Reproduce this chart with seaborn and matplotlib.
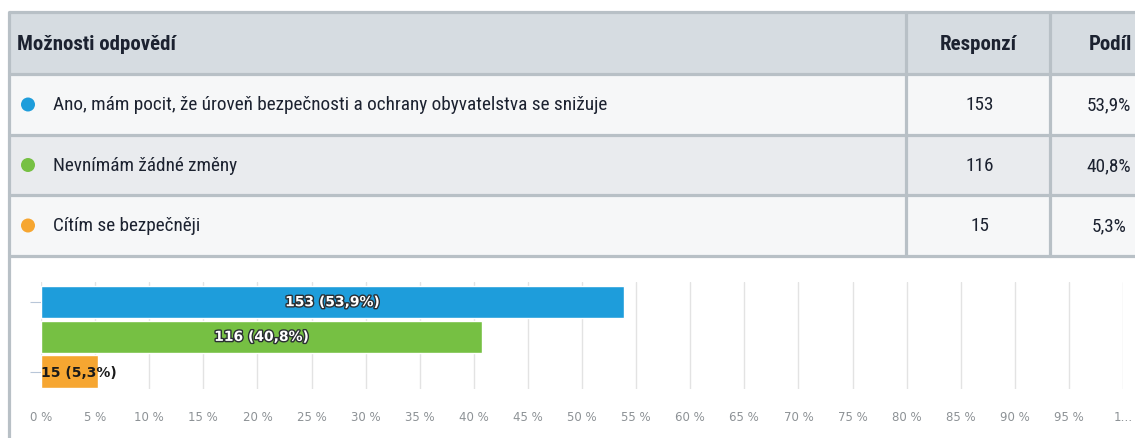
import numpy as np
import pandas as pd
import matplotlib
matplotlib.use("Agg")
import matplotlib.pyplot as plt
import matplotlib.patheffects as pe
from matplotlib.patches import Rectangle, Circle
import seaborn as sns

# data
answers = [
    "Ano, mám pocit, že úroveň bezpečnosti a ochrany obyvatelstva se snižuje",
    "Nevnímám žádné změny",
    "Cítím se bezpečněji",
]
counts = [153, 116, 15]
shares = [53.9, 40.8, 5.3]
colors = ["#1e9ddb", "#76c043", "#f6a631"]
header = ["Možnosti odpovědí", "Responzí", "Podíl"]
tick_values = list(range(0, 101, 5))
tick_labels = [f"{v} %" for v in tick_values[:-1]] + ["1…"]

sns.set_theme(style="white")
plt.rcParams["font.family"] = ["Roboto Condensed", "Liberation Sans Narrow", "Roboto", "DejaVu Sans"]

W, H = 1135, 439
fig = plt.figure(figsize=(W / 100, H / 100), dpi=100)
fig.patch.set_facecolor("white")
renderer = fig.canvas.get_renderer()

# table drawn in pixel coordinates
bg = fig.add_axes([0, 0, 1, 1])
bg.set_xlim(0, W)
bg.set_ylim(H, 0)
bg.axis("off")

border = "#b8c0c6"
col_x = [9, 906, 1050, 1175]
row_y = [13, 75, 136, 196, 257]
row_bg = ["#d6dce1", "#f6f7f8", "#e9ebee", "#f6f7f8"]
for i, c in enumerate(row_bg):
    bg.add_patch(Rectangle((col_x[0], row_y[i]), col_x[-1] - col_x[0], row_y[i + 1] - row_y[i],
                           facecolor=c, edgecolor="none", zorder=1))
for y in row_y:
    bg.plot([col_x[0], W], [y, y], color=border, lw=2.3, zorder=2, solid_capstyle="butt")
for x in col_x[1:3]:
    bg.plot([x, x], [row_y[0], row_y[-1]], color=border, lw=2.3, zorder=2)
bg.plot([col_x[0], col_x[0]], [row_y[0], H], color=border, lw=2.3, zorder=2)


def fit(t, target_px, max_size):
    # shrink a text so its width matches the reference width
    w = t.get_window_extent(renderer).width
    t.set_fontsize(min(max_size, t.get_fontsize() * target_px / w))
    return t.get_fontsize()


txt_color = "#1c2230"
hy = (row_y[0] + row_y[1]) / 2
h0 = bg.text(17, hy, header[0], fontsize=15, fontweight="bold", color=txt_color, va="center", ha="left")
hsize = fit(h0, 171, 15)
bg.text(978, hy, header[1], fontsize=hsize, fontweight="bold", color=txt_color, va="center", ha="center")
bg.text(1110, hy, header[2], fontsize=hsize, fontweight="bold", color=txt_color, va="center", ha="center")

row_texts = []
for i, (ans, n, s, c) in enumerate(zip(answers, counts, shares, colors)):
    cy = (row_y[i + 1] + row_y[i + 2]) / 2
    bg.add_patch(Circle((28, cy), 7, facecolor=c, edgecolor="none", zorder=3))
    row_texts.append(bg.text(53, cy, ans, fontsize=14, color=txt_color, va="center", ha="left"))
    row_texts.append(bg.text(980, cy, str(n), fontsize=14, color=txt_color, va="center", ha="center"))
    row_texts.append(bg.text(1109, cy, f"{s:.1f}%".replace(".", ","), fontsize=14,
                             color=txt_color, va="center", ha="center"))
rsize = fit(row_texts[0], 560, 14)
for t in row_texts:
    t.set_fontsize(rsize)

# bar chart
x0, x1 = 41, 1123
top, bottom = 283, 390
ax = fig.add_axes([x0 / W, (H - bottom) / H, (x1 - x0) / W, (bottom - top) / H])
ax.set_facecolor("none")

df = pd.DataFrame({"answer": answers, "share": shares})
sns.barplot(data=df, x="share", y="answer", hue="answer", palette=colors, saturation=1,
            orient="h", width=0.94, legend=False, ax=ax, zorder=3)

ax.set_xlim(0, 100)
ax.set_ylim(2.5, -0.58)
ax.set_xticks(tick_values)
ax.set_xticklabels(tick_labels, fontsize=8.5, color="#8d9296", family="DejaVu Sans")
ax.xaxis.grid(True, color="#e3e3e3", lw=1.0, zorder=0)
ax.set_axisbelow(True)
ax.tick_params(axis="x", length=0, pad=15)
ax.set_yticks([0, 2])
ax.set_yticklabels(["", ""])
ax.tick_params(axis="y", length=8, width=0.8, color="#b8c6d8", left=True, pad=0)
ax.set_xlabel("")
ax.set_ylabel("")
for sp in ax.spines.values():
    sp.set_visible(False)

for i, (n, s) in enumerate(zip(counts, shares)):
    label = f"{n} ({s:.1f}%)".replace(".", ",")
    if s > 20:
        ax.text(s / 2, i, label, ha="center", va="center", fontsize=10, fontweight="bold",
                color="white", family="DejaVu Sans", zorder=5,
                path_effects=[pe.withStroke(linewidth=2, foreground="#2a2f33")])
    else:
        ax.text(0, i, label, ha="left", va="center", fontsize=10, fontweight="bold",
                color="#1a1a1a", family="DejaVu Sans", zorder=5)

fig.savefig("out.png", dpi=100)
